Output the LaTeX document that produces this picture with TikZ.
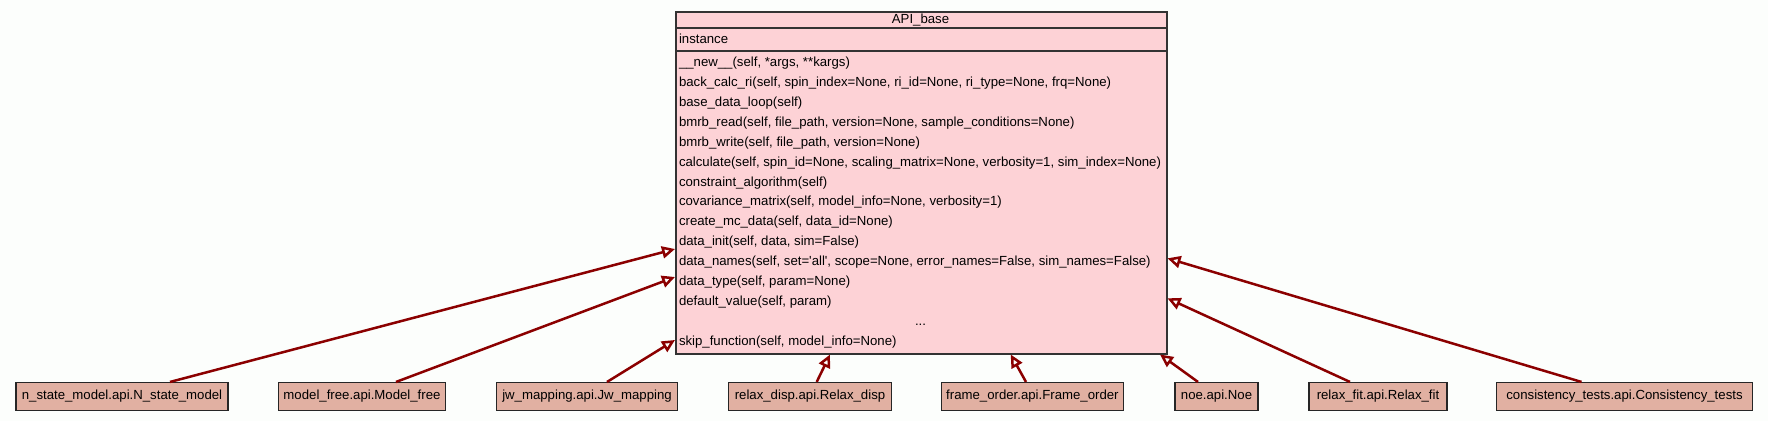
\documentclass[tikz,border=0pt]{standalone}
\usepackage{fontspec}
\setmainfont{Liberation Sans}
\usetikzlibrary{arrows.meta}
\definecolor{bgc}{HTML}{FCFEFC}
\definecolor{basefill}{HTML}{FDD2D6}
\definecolor{childfill}{HTML}{E1B0A2}
\definecolor{inhcol}{HTML}{8B0000}
\definecolor{edgegray}{HTML}{333333}
\begin{document}
\begin{tikzpicture}[x=1pt,y=-1pt,
  font=\fontsize{13.2}{15}\selectfont,
  child/.style={draw=black!85, line width=1.1pt, fill=childfill, minimum height=28.2pt, inner sep=0pt, text height=9.5pt, text depth=3pt},
  row/.style={anchor=west, inner sep=0pt, text height=9.5pt, text depth=3pt},
  ctr/.style={anchor=center, inner sep=0pt, text height=9.5pt, text depth=3pt},
  inh/.style={draw=inhcol, line width=2.5pt, -{Triangle[open, length=13pt, width=12pt, fill=bgc]}},
  sep/.style={draw=edgegray, line width=1.2pt}]
\fill[bgc] (0,0) rectangle (1768,421);
\useasboundingbox (0,0) rectangle (1768,421);

% base class box
\node[draw=edgegray, line width=1.5pt, fill=basefill, minimum width=491pt, minimum height=342pt, inner sep=0pt, anchor=north west] (base) at (675,11) {};
\draw[sep] (base.west |- 0,28) -- (base.east |- 0,28);
\draw[sep, line width=2pt] (base.west |- 0,51) -- (base.east |- 0,51);

\node[ctr] (title) at (920.5,20.5) {API\_base};
\node[row] (attr) at (678.8,40) {instance};

\node[row] (m0) at (678.8,63.2) {\_\_new\_\_(self, *args, **kargs)};
\node[row] (m1) at (678.8,83.1) {back\_calc\_ri(self, spin\_index=None, ri\_id=None, ri\_type=None, frq=None)};
\node[row] (m2) at (678.8,103.1) {base\_data\_loop(self)};
\node[row] (m3) at (678.8,123.0) {bmrb\_read(self, file\_path, version=None, sample\_conditions=None)};
\node[row] (m4) at (678.8,142.9) {bmrb\_write(self, file\_path, version=None)};
\node[row] (m5) at (678.8,162.9) {calculate(self, spin\_id=None, scaling\_matrix=None, verbosity=1, sim\_index=None)};
\node[row] (m6) at (678.8,182.8) {constraint\_algorithm(self)};
\node[row] (m7) at (678.8,202.7) {covariance\_matrix(self, model\_info=None, verbosity=1)};
\node[row] (m8) at (678.8,222.6) {create\_mc\_data(self, data\_id=None)};
\node[row] (m9) at (678.8,242.6) {data\_init(self, data, sim=False)};
\node[row] (m10) at (678.8,262.5) {data\_names(self, set=\textquotesingle all\textquotesingle, scope=None, error\_names=False, sim\_names=False)};
\node[row] (m11) at (678.8,282.4) {data\_type(self, param=None)};
\node[row] (m12) at (678.8,302.4) {default\_value(self, param)};
\node[ctr] (m13) at (920.5,322.3) {...};
\node[row] (m14) at (678.8,342.2) {skip\_function(self, model\_info=None)};

% subclasses
\node[child, minimum width=212pt] (c1) at (122,396.6) {n\_state\_model.api.N\_state\_model};
\node[child, minimum width=167pt] (c2) at (362,396.6) {model\_free.api.Model\_free};
\node[child, minimum width=181.3pt] (c3) at (587,396.6) {jw\_mapping.api.Jw\_mapping};
\node[child, minimum width=163.4pt] (c4) at (810,396.6) {relax\_disp.api.Relax\_disp};
\node[child, minimum width=181.3pt] (c5) at (1032.4,396.6) {frame\_order.api.Frame\_order};
\node[child, minimum width=83pt] (c6) at (1216.5,396.6) {noe.api.Noe};
\node[child, minimum width=138pt] (c7) at (1378,396.6) {relax\_fit.api.Relax\_fit};
\node[child, minimum width=255.6pt] (c8) at (1624.5,396.6) {consistency\_tests.api.Consistency\_tests};

% inheritance arrows
\draw[inh] ([xshift=48pt]c1.north) -- (base.west |- 0,249);
\draw[inh] ([xshift=34pt]c2.north) -- (base.west |- 0,277);
\draw[inh] ([xshift=20pt]c3.north) -- (base.west |- 0,340);
\draw[inh] ([xshift=6.7pt]c4.north) -- (base.south -| 830,0);
\draw[inh] ([xshift=-6.4pt]c5.north) -- (base.south -| 1010.7,0);
\draw[inh] ([xshift=-18.5pt]c6.north) -- (base.south -| 1160,0);
\draw[inh] ([xshift=-28pt]c7.north) -- (base.east |- 0,298.3);
\draw[inh] ([xshift=-43pt]c8.north) -- (base.east |- 0,258.3);
\end{tikzpicture}
\end{document}
